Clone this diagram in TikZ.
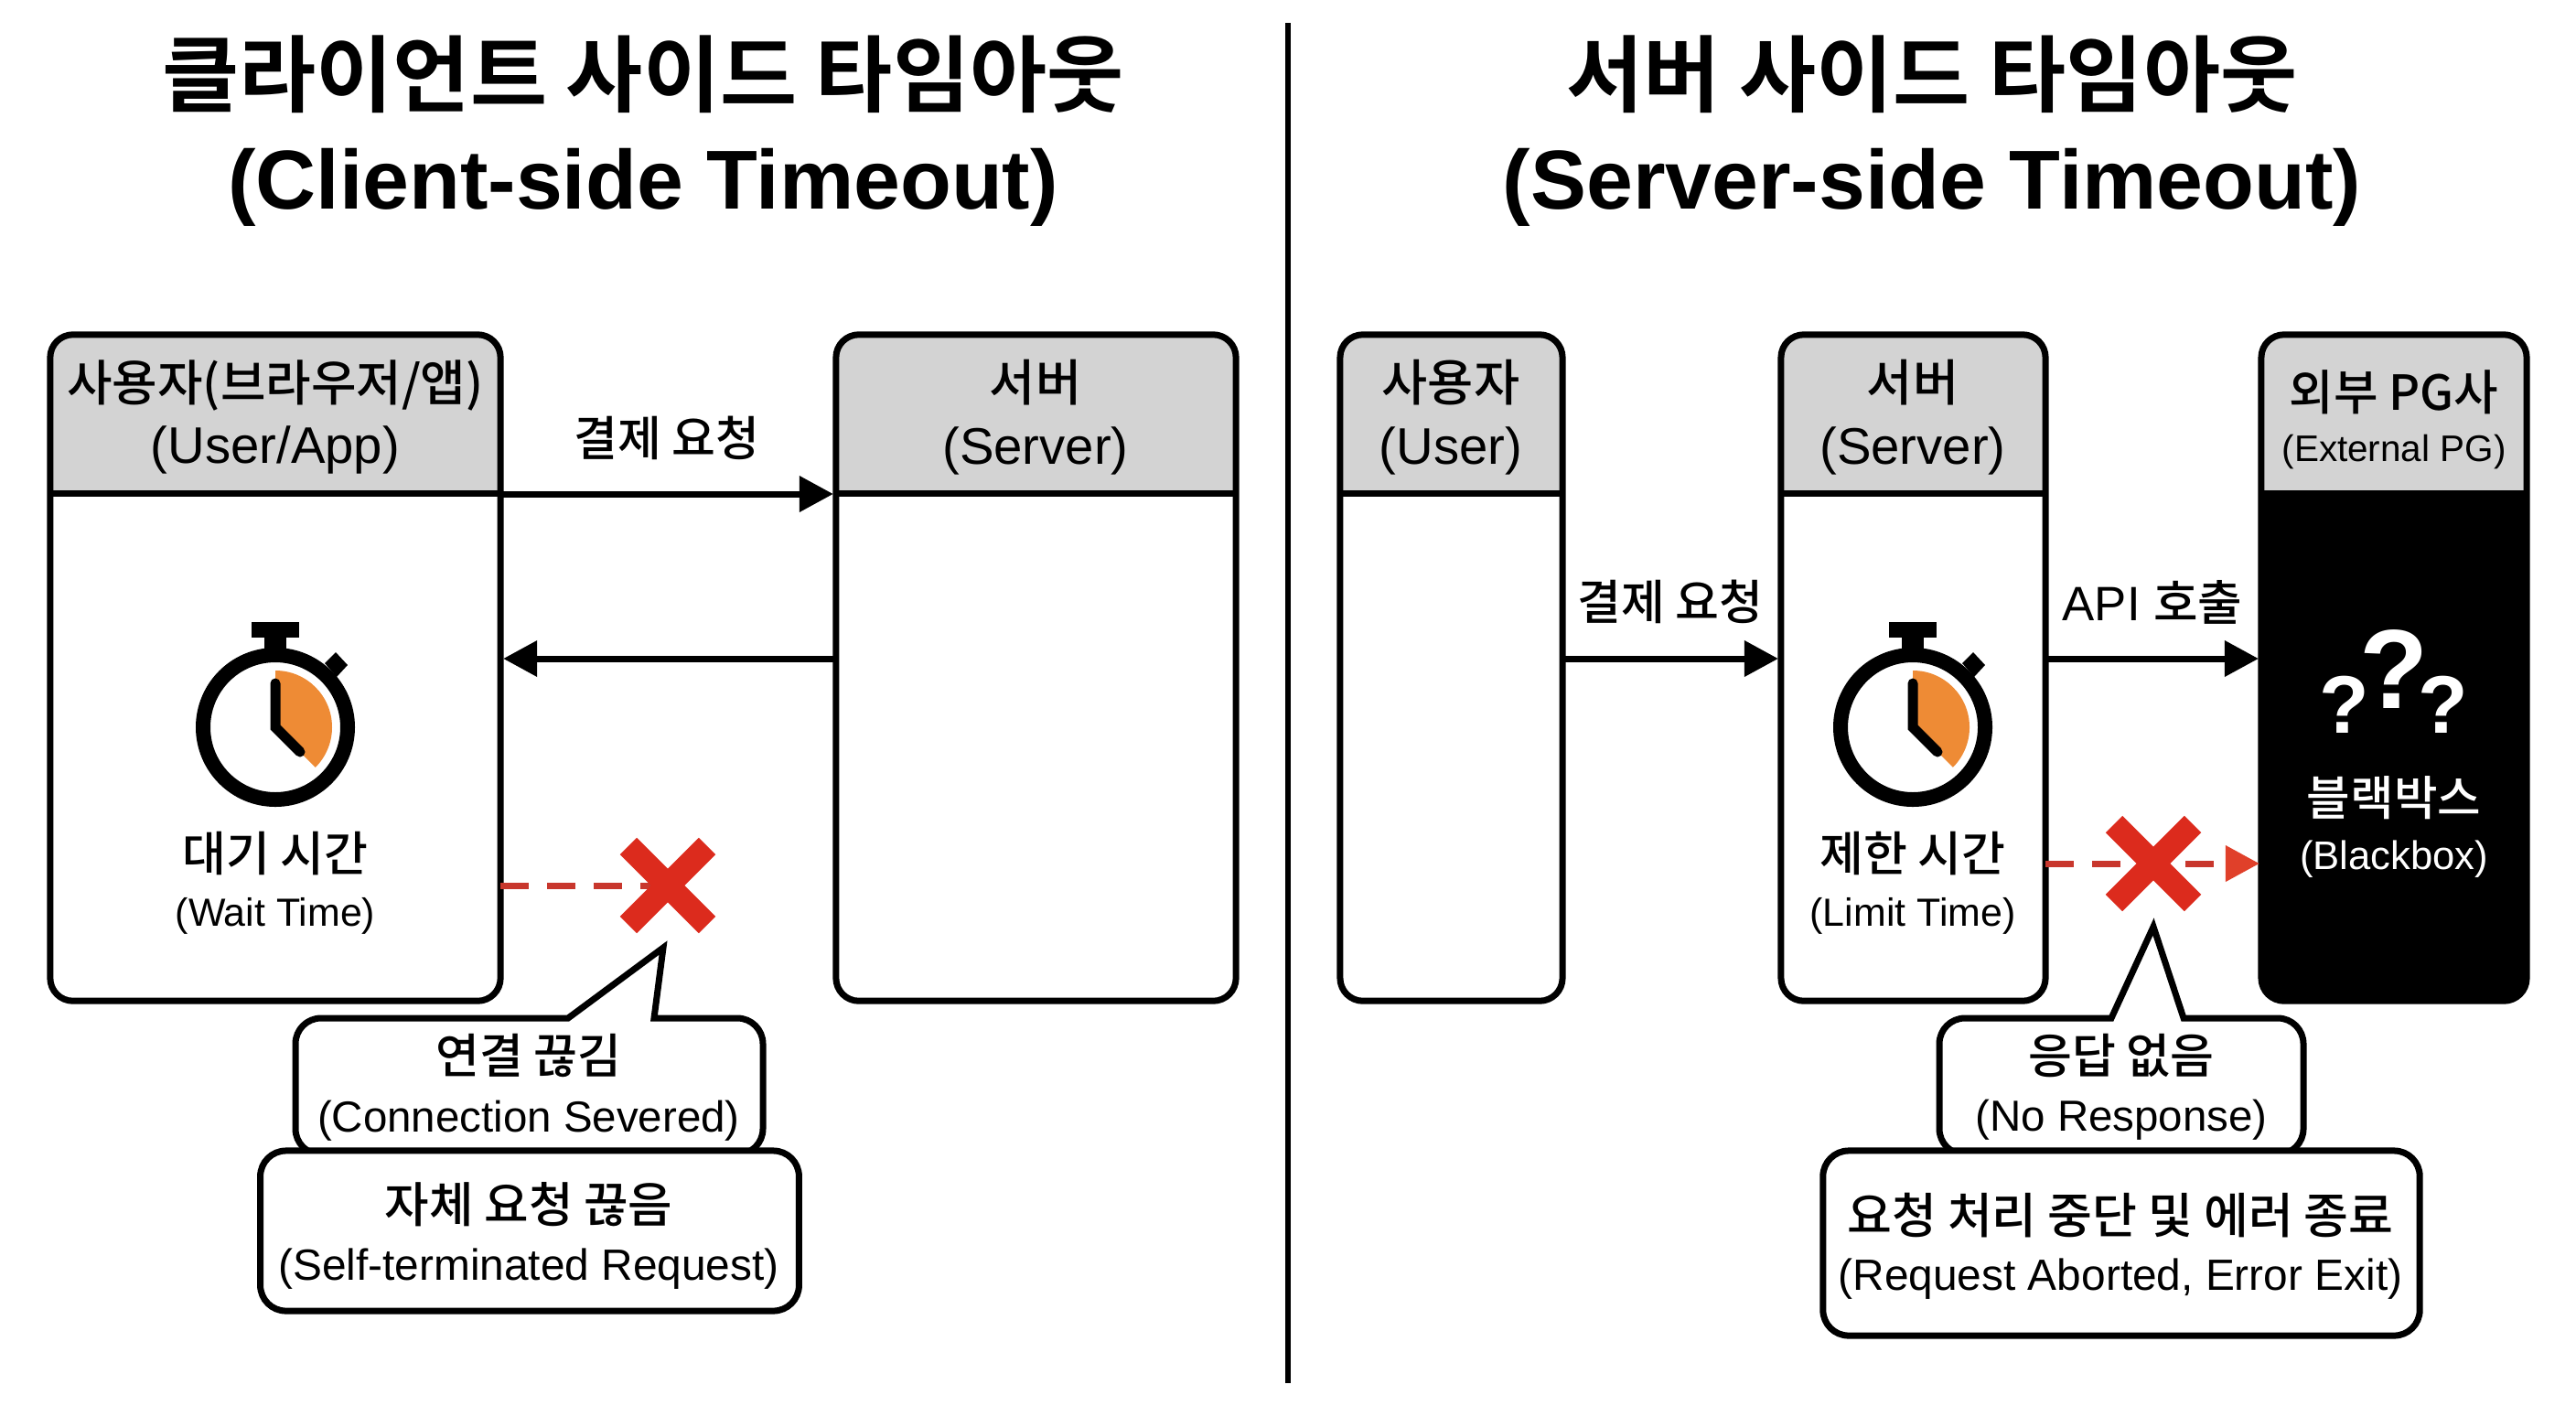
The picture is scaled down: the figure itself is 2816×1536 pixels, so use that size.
\documentclass[tikz,border=0pt]{standalone}
\usepackage{fontspec}
\setmainfont{Liberation Sans}
\newfontfamily\krf{Noto Sans CJK KR}[UprightFont=* Medium,BoldFont=* Bold]
\usetikzlibrary{arrows.meta,shapes.misc}
\definecolor{hdrgray}{HTML}{D3D3D3}
\definecolor{clockorange}{HTML}{EE8B35}
\definecolor{crossred}{HTML}{DC2B1D}
\definecolor{dashred}{HTML}{C8372D}
\definecolor{tipred}{HTML}{E0402A}
\newcommand{\twolines}[5]{\vbox{\baselineskip=#3pt\lineskiplimit=-100pt\halign{\hfil##\hfil\cr{\krf\fontsize{#1}{#3}\selectfont #4}\cr{\fontsize{#2}{#3}\selectfont #5}\cr}}}
\newcommand{\watch}[1]{%
  \begin{scope}[shift={(#1,795)}]
    \fill[clockorange] (0,0) -- (0,-62) arc[start angle=-90,end angle=45,radius=62] -- cycle;
    \draw[line width=.16cm,black] (0,0) circle[radius=79];
    \fill[black] (-26,-115) rectangle (26,-98);
    \fill[black] (-12,-98) rectangle (12,-82);
    \fill[black] (66,-82) -- (79,-68) -- (67,-55) -- (54,-70) -- cycle;
    \draw[line width=.11cm,line cap=round,line join=miter] (0,-48) -- (0,0) -- (27,27);
  \end{scope}}
\tikzset{
  x=0.01cm,y=-0.01cm,
  panel/.style={draw=black,line width=.07cm,rounded corners=.25cm,inner sep=0pt,outer sep=0pt,
    minimum height=7.28cm,
    path picture={\fill[hdrgray,sharp corners] (path picture bounding box.north west) rectangle ([yshift=-1.74cm]path picture bounding box.north east);
      \draw[line width=.07cm] ([yshift=-1.74cm]path picture bounding box.north west) -- ([yshift=-1.74cm]path picture bounding box.north east);}},
  callbox/.style={draw=black,fill=white,line width=.07cm,rounded corners=.28cm,inner sep=0pt,outer sep=0pt},
  outline/.style={draw=black,fill=white,line width=.07cm,line join=miter},
  txt/.style={inner sep=0pt,text=black},
  flow/.style={draw=black,line width=.07cm,-{Triangle[length=.37cm,width=.38cm]},shorten >=.03cm},
  faildash/.style={draw=dashred,line width=.07cm,dash pattern=on .31cm off .2cm},
  failmark/.style={cross out,draw=crossred,line width=.26cm,minimum width=.86cm,minimum height=.86cm,inner sep=0pt,outer sep=0pt},
  qmark/.style={inner sep=0pt,text=white},
}
\begin{document}
\begin{tikzpicture}
\useasboundingbox (0,0) rectangle (2816,1536);
\fill[white] (0,0) rectangle (2816,1536);

% divider
\coordinate (divtop) at (1408,25);
\coordinate (divbot) at (1408,1512);
\draw[line width=.06cm] (divtop) -- (divbot);

% titles
\node[txt,font=\bfseries] (titleL) at (703,143) {\twolines{26}{26}{32.2}{클라이언트 사이드 타임아웃}{(Client-side Timeout)}};
\node[txt,font=\bfseries] (titleR) at (2112,143) {\twolines{26}{26}{32.2}{서버 사이드 타임아웃}{(Server-side Timeout)}};

% lanes
\coordinate (laneA) at (0,540);
\coordinate (laneB) at (0,720);
\coordinate (laneC) at (0,968);
\coordinate (laneD) at (0,944);

% panels left
\node[panel,minimum width=4.92cm] (user) at (301,730) {};
\node[panel,minimum width=4.37cm] (server) at (1132.5,730) {};
% panels right
\node[panel,minimum width=2.43cm] (userR) at (1586.5,730) {};
\node[panel,minimum width=2.89cm] (serverR) at (2091.5,730) {};
\node[panel,minimum width=2.90cm,fill=black] (pg) at (2617,730) {};

% headers
\node[txt] (hUser) at (301,456) {\twolines{15.3}{16}{19.5}{사용자(브라우저/앱)}{(User/App)}};
\node[txt] (hServer) at (1132,456) {\twolines{15.5}{16}{19.5}{서버}{(Server)}};
\node[txt] (hUserR) at (1586,456) {\twolines{15.5}{16}{19.5}{사용자}{(User)}};
\node[txt] (hServerR) at (2091,456) {\twolines{15.5}{16}{19.5}{서버}{(Server)}};
\node[txt] (hPg) at (2617,459) {\twolines{15}{11.5}{16}{외부 PG사}{(External PG)}};

% watches
\watch{301}
\watch{2091}
\node[txt] (waitT) at (301,965) {\twolines{14.8}{12.2}{17}{대기 시간}{(Wait Time)}};
\node[txt] (limitT) at (2091,965) {\twolines{14.8}{12.2}{17}{제한 시간}{(Limit Time)}};

% left flow
\draw[flow] (user.east |- laneA) -- (server.west |- laneA);
\draw[flow] (server.west |- laneB) -- (user.east |- laneB);
\node[txt] (lblPay) at (729,479) {{\krf\fontsize{14.8}{18}\selectfont 결제 요청}};
\coordinate (xLc) at (730,968);
\draw[faildash] (user.east |- laneC) -- (xLc);
\node[failmark] (xL) at (xLc) {};

% right flow
\draw[flow] (userR.east |- laneB) -- (serverR.west |- laneB);
\draw[flow] (serverR.east |- laneB) -- (pg.west |- laneB);
\node[txt] (lblPayR) at (1826,658) {{\krf\fontsize{14.8}{18}\selectfont 결제 요청}};
\node[txt] (lblApi) at (2353,658) {\fontsize{15}{18}\selectfont API {\krf 호출}};
\draw[faildash,-{Triangle[length=.37cm,width=.38cm,fill=tipred,color=tipred]},shorten >=.02cm] (serverR.east |- laneD) -- (pg.west |- laneD);
\node[failmark] (xR) at (2354,944) {};

% black box
\node[qmark,font=\bfseries\fontsize{25.4}{26}\selectfont] (q1) at (2563,770) {?};
\node[qmark,font=\bfseries\fontsize{35}{36}\selectfont] (q2) at (2617,732) {?};
\node[qmark,font=\bfseries\fontsize{25.4}{26}\selectfont] (q3) at (2671,770) {?};
\node[txt,text=white] (bbT) at (2617,904) {\twolines{14.7}{12.4}{16.8}{블랙박스}{(Blackbox)}};

% callouts left
\coordinate (tipL) at (725,1036);
\draw[outline,rounded corners=.28cm] (323,1190) -- (323,1113) [sharp corners] -- (621,1113) -- (tipL) -- (715,1113) [rounded corners=.28cm] -- (834,1113) -- (834,1262) -- (323,1262) -- cycle;
\node[txt] (c1T) at (578,1189) {\twolines{14.8}{13.5}{18.2}{연결 끊김}{(Connection Severed)}};
\node[callbox,minimum width=5.885cm,minimum height=1.75cm] (c2) at (579,1345.5) {};
\node[txt] (c2T) at (578,1351) {\twolines{15}{13.6}{18}{자체 요청 끊음}{(Self-terminated Request)}};

% callouts right
\coordinate (tipR) at (2354,1013);
\draw[outline,rounded corners=.28cm] (2120,1190) -- (2120,1113) [sharp corners] -- (2308,1113) -- (tipR) -- (2387,1113) [rounded corners=.28cm] -- (2518,1113) -- (2518,1262) -- (2120,1262) -- cycle;
\node[txt] (c3T) at (2319,1188) {\twolines{14.8}{13.5}{18}{응답 없음}{(No Response)}};
\node[callbox,minimum width=6.52cm,minimum height=2.02cm] (c4) at (2319,1359) {};
\node[txt] (c4T) at (2318,1362) {\twolines{15.1}{13.6}{17.5}{요청 처리 중단 및 에러 종료}{(Request Aborted, Error Exit)}};
\end{tikzpicture}
\end{document}
